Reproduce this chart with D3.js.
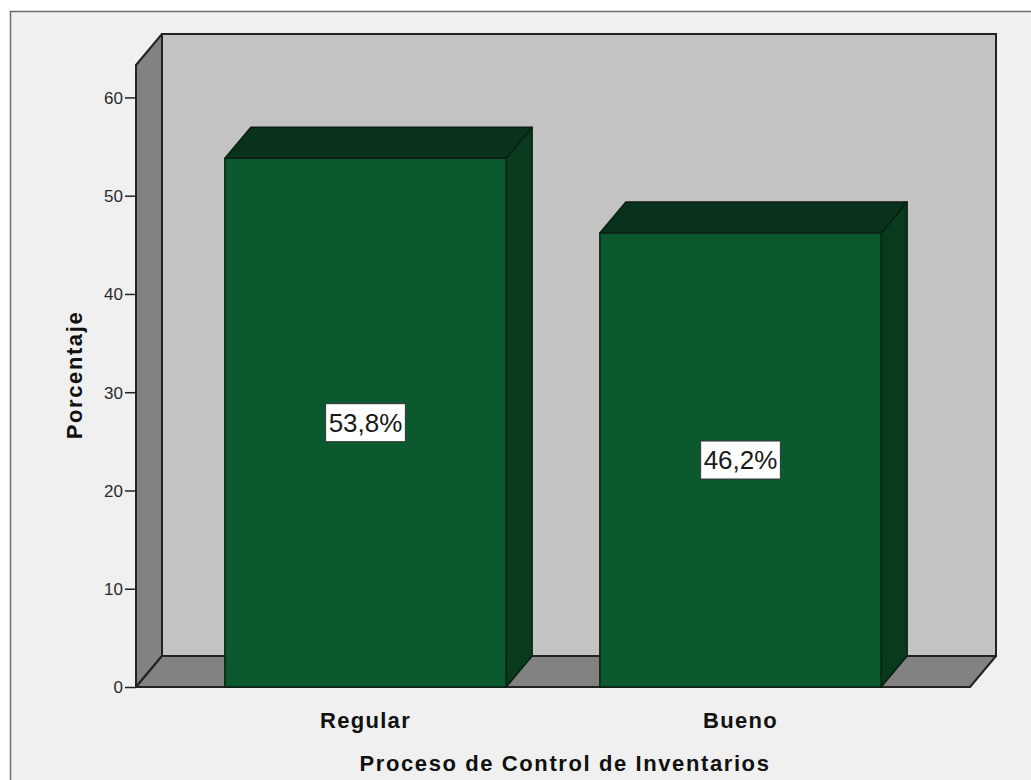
<!DOCTYPE html>
<html>
<head>
<meta charset="utf-8">
<script src="https://cdn.jsdelivr.net/npm/d3@7"></script>
<style>
  html, body { margin: 0; padding: 0; background: #ffffff; }
  svg { display: block; font-family: "Liberation Sans", Arial, sans-serif; }
</style>
</head>
<body>
<svg id="chart" width="1031" height="780"></svg>
<script>
// Chart data
const categories = ["Regular", "Bueno"];
const percentages = [53.8, 46.2];
const valueLabels = ["53,8%", "46,2%"];
const yTicks = [0, 10, 20, 30, 40, 50, 60];
const yTitle = "Porcentaje";
const xTitle = "Proceso de Control de Inventarios";

const svg = d3.select("#chart");

// 3D depth offsets
const dx = 26, dy = 31;

// Plot frame (front plane)
const x0 = 136, x1 = 970, yBase = 687;
const yScale = d3.scaleLinear().domain([0, 63.3]).range([yBase, 65]);
const xScale = d3.scaleBand().domain(categories).range([x0, x1])
  .paddingInner(0.25).paddingOuter(0.237);

// Outer panel
svg.append("rect").attr("x", 10.5).attr("y", 11.5).attr("width", 1040).attr("height", 800)
  .attr("fill", "#f0f0f0").attr("stroke", "#6e6e6e").attr("stroke-width", 1.5);

const yTop = yScale.range()[1];

// Back wall
svg.append("rect")
  .attr("x", x0 + dx).attr("y", yTop - dy)
  .attr("width", x1 - x0).attr("height", yBase - yTop)
  .attr("fill", "#c3c3c3").attr("stroke", "#222").attr("stroke-width", 2);

// Left wall
svg.append("polygon")
  .attr("points", [[x0, yTop], [x0 + dx, yTop - dy], [x0 + dx, yBase - dy], [x0, yBase]].join(" "))
  .attr("fill", "#828282").attr("stroke", "#222").attr("stroke-width", 2).attr("stroke-linejoin", "round");

// Floor
svg.append("polygon")
  .attr("points", [[x0, yBase], [x0 + dx, yBase - dy], [x1 + dx, yBase - dy], [x1, yBase]].join(" "))
  .attr("fill", "#828282").attr("stroke", "#222").attr("stroke-width", 2).attr("stroke-linejoin", "round");

// Bars
const bars = svg.append("g");
categories.forEach((c, i) => {
  const bx = xScale(c), bw = xScale.bandwidth();
  const by = yScale(percentages[i]);
  const g = bars.append("g").attr("stroke", "#0a1f12").attr("stroke-width", 1.5).attr("stroke-linejoin", "round");
  // side face
  g.append("polygon")
    .attr("points", [[bx + bw, by], [bx + bw + dx, by - dy], [bx + bw + dx, yBase - dy], [bx + bw, yBase]].join(" "))
    .attr("fill", "#083a1e");
  // top face
  g.append("polygon")
    .attr("points", [[bx, by], [bx + dx, by - dy], [bx + bw + dx, by - dy], [bx + bw, by]].join(" "))
    .attr("fill", "#08321b");
  // front face
  g.append("rect").attr("x", bx).attr("y", by).attr("width", bw).attr("height", yBase - by)
    .attr("fill", "#0b5a2f");
});

// Value labels
categories.forEach((c, i) => {
  const cx = xScale(c) + xScale.bandwidth() / 2;
  const cy = (yScale(percentages[i]) + yBase) / 2;
  const g = svg.append("g");
  const t = g.append("text").attr("x", cx).attr("y", cy + 9)
    .attr("text-anchor", "middle").attr("font-size", 26).attr("fill", "#1a1a1a")
    .text(valueLabels[i]);
  const bb = t.node().getBBox();
  g.insert("rect", "text")
    .attr("x", bb.x - 3).attr("y", cy - 19).attr("width", bb.width + 6).attr("height", 38)
    .attr("fill", "#fff").attr("stroke", "#333").attr("stroke-width", 1);
});

// Y axis (ticks on the front-left edge)
const yAxis = svg.append("g").attr("transform", `translate(${x0},0)`)
  .call(d3.axisLeft(yScale).tickValues(yTicks).tickSize(11).tickPadding(2));
yAxis.select(".domain").remove();
yAxis.selectAll("line").attr("stroke", "#222").attr("stroke-width", 1.5);
yAxis.selectAll("text").attr("font-size", 17).attr("fill", "#2a2a2a").attr("dy", "0.35em")
  .attr("font-family", "\"Liberation Sans\", Arial, sans-serif");

// Category labels
svg.selectAll(".cat").data(categories).enter().append("text")
  .attr("x", d => xScale(d) + xScale.bandwidth() / 2).attr("y", 728)
  .attr("text-anchor", "middle").attr("font-size", 22).attr("font-weight", "bold")
  .attr("letter-spacing", 1.3).attr("fill", "#111")
  .text(d => d);

// Axis titles
svg.append("text").attr("x", (x0 + x1 + dx) / 2 - 1).attr("y", 771)
  .attr("text-anchor", "middle").attr("font-size", 22).attr("font-weight", "bold")
  .attr("letter-spacing", 1.6).attr("fill", "#111")
  .text(xTitle);
svg.append("text").attr("transform", "translate(82,375) rotate(-90)")
  .attr("text-anchor", "middle").attr("font-size", 22).attr("font-weight", "bold")
  .attr("letter-spacing", 1.6).attr("fill", "#111")
  .text(yTitle);
</script>
</body>
</html>
